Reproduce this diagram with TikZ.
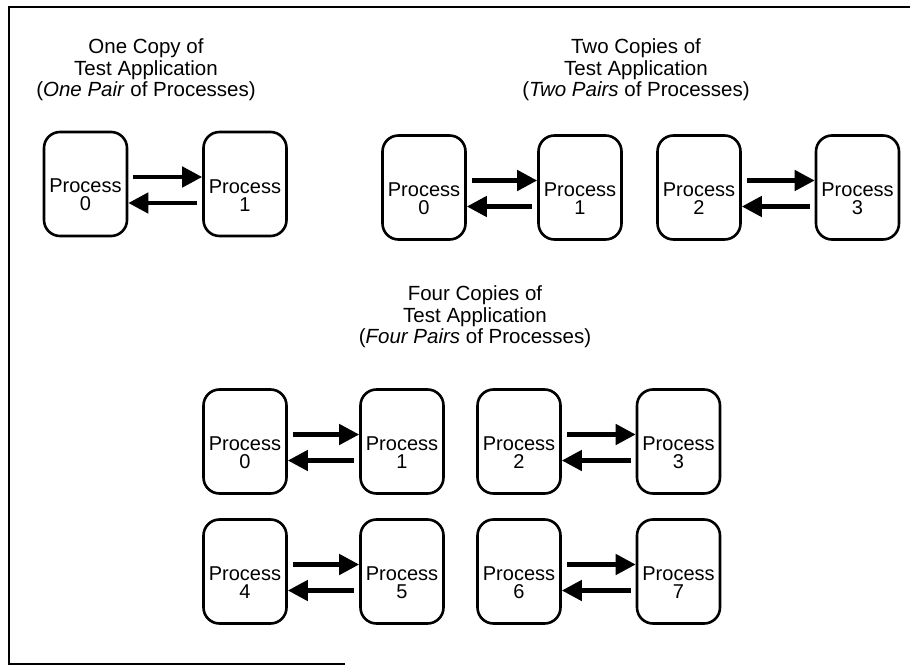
\documentclass[tikz,border=0pt]{standalone}
\usepackage{fontspec}
\setmainfont{Liberation Sans}
\usetikzlibrary{arrows.meta}

% box text, pushed a little below the middle of the box
\newcommand{\ptext}[1]{\rule{0pt}{36pt}Process\\#1}

\begin{document}
\begin{tikzpicture}[x=1pt, y=-1pt,
  proc/.style={draw, line width=2.6pt, rounded corners=16pt, minimum width=83pt,
    minimum height=104pt, align=center, inner sep=0pt, font=\fontsize{20}{18}\selectfont},
  title/.style={align=center, inner sep=0pt, font=\fontsize{20.5}{21.5}\selectfont},
  msg/.style={line width=4.5pt, -{Triangle[length=20pt,width=20pt]}, shorten <=5pt}]
\useasboundingbox (0,0) rectangle (910,666);

% frame (only three sides show)
\draw [line width=2.5pt] (345,664) -- (9,664) -- (9,7) -- (910,7);

% one copy
\node [title] (t1) at (146,70) {One Copy of\\Test Application\\(\textit{One Pair} of Processes)};
\node [proc] (a0) at (85.5,184) {\ptext{0}};
\node [proc] (a1) at (245,184) {\ptext{1}};

% two copies
\node [title] (t2) at (636,70) {Two Copies of\\Test Application\\(\textit{Two Pairs} of Processes)};
\node [proc] (b0) at (424,187.5) {\ptext{0}};
\node [proc] (b1) at (580,187.5) {\ptext{1}};
\node [proc] (b2) at (699,187.5) {\ptext{2}};
\node [proc] (b3) at (857.5,187.5) {\ptext{3}};

% four copies
\node [title] (t4) at (475,317) {Four Copies of\\Test Application\\(\textit{Four Pairs} of Processes)};
\node [proc] (c0) at (245,441.5) {\ptext{0}};
\node [proc] (c1) at (402,441.5) {\ptext{1}};
\node [proc] (c2) at (519,441.5) {\ptext{2}};
\node [proc] (c3) at (678.5,441.5) {\ptext{3}};
\node [proc] (c4) at (245,571.5) {\ptext{4}};
\node [proc] (c5) at (402,571.5) {\ptext{5}};
\node [proc] (c6) at (519,571.5) {\ptext{6}};
\node [proc] (c7) at (678.5,571.5) {\ptext{7}};

% messages both ways
\foreach \s/\t in {a0/a1, b0/b1, b2/b3, c0/c1, c2/c3, c4/c5, c6/c7} {
  \draw [msg] ([yshift=7pt]\s.east) -- ([yshift=7pt]\t.west);
  \draw [msg] ([yshift=-19pt]\t.west) -- ([yshift=-19pt]\s.east);
}
\end{tikzpicture}
\end{document}
